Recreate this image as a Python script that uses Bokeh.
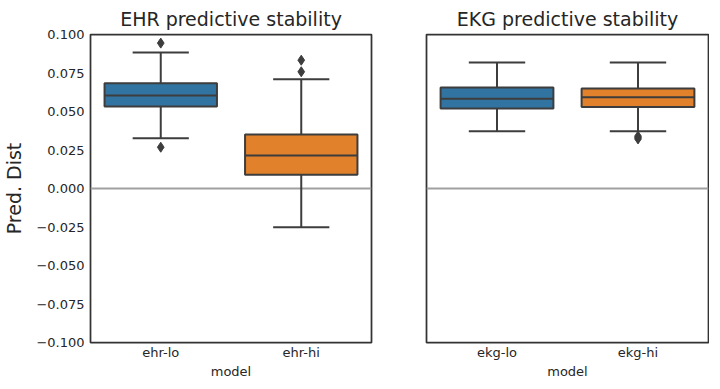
from bokeh.plotting import figure
from bokeh.models import FactorRange, Range1d, FixedTicker, Span, ColumnDataSource, CustomJSTickFormatter
from bokeh.transform import dodge
from bokeh.layouts import row
from bokeh.embed import file_html
from bokeh.resources import INLINE

# ---- data ----
ehr_models = ["ehr-lo", "ehr-hi"]
ehr_q1 = [0.0532, 0.0089]
ehr_med = [0.0604, 0.0214]
ehr_q3 = [0.0684, 0.0351]
ehr_lower = [0.0327, -0.0251]
ehr_upper = [0.0883, 0.0710]
ehr_out_model = ["ehr-lo", "ehr-lo", "ehr-hi", "ehr-hi"]
ehr_out_val = [0.0944, 0.0268, 0.0833, 0.0758]

ekg_models = ["ekg-lo", "ekg-hi"]
ekg_q1 = [0.0520, 0.0530]
ekg_med = [0.0582, 0.0593]
ekg_q3 = [0.0656, 0.0649]
ekg_lower = [0.0372, 0.0372]
ekg_upper = [0.0818, 0.0818]
ekg_out_model = ["ekg-hi", "ekg-hi", "ekg-hi"]
ekg_out_val = [0.0340, 0.0331, 0.0322]

y_ticks = [-0.1, -0.075, -0.05, -0.025, 0.0, 0.025, 0.05, 0.075, 0.1]

palette = ["#3274A1", "#E1812C"]
EDGE = "#3d3d3d"
TXT = "#262626"
FONT = "DejaVu Sans"


def panel(models, q1, med, q3, lo, hi, om, ov, title, show_y, fw, bl, br):
    p = figure(x_range=FactorRange(*models), y_range=Range1d(-0.1, 0.1),
               frame_width=fw, frame_height=308, output_backend="svg", toolbar_location=None,
               title=title, min_border_left=bl, min_border_right=br,
               min_border_top=25, min_border_bottom=36)
    src = ColumnDataSource(dict(model=models, q1=q1, med=med, q3=q3, lo=lo, hi=hi,
                                color=palette[:len(models)]))
    p.add_layout(Span(location=0, dimension="width", line_color="#a0a0a0",
                      line_width=2, level="underlay"))
    # whisker stems
    p.segment(x0="model", y0="q3", x1="model", y1="hi", source=src, line_color=EDGE, line_width=2)
    p.segment(x0="model", y0="q1", x1="model", y1="lo", source=src, line_color=EDGE, line_width=2)
    # caps
    for col in ("hi", "lo"):
        p.segment(x0=dodge("model", -0.2, range=p.x_range), y0=col,
                  x1=dodge("model", 0.2, range=p.x_range), y1=col,
                  source=src, line_color=EDGE, line_width=2)
    # boxes
    p.vbar(x="model", width=0.8, top="q3", bottom="q1", source=src,
           fill_color="color", line_color=EDGE, line_width=2)
    # medians
    p.segment(x0=dodge("model", -0.4, range=p.x_range), y0="med",
              x1=dodge("model", 0.4, range=p.x_range), y1="med",
              source=src, line_color=EDGE, line_width=2)
    # outliers
    osrc = ColumnDataSource(dict(model=om, val=ov))
    p.scatter(x="model", y="val", source=osrc, marker="diamond", size=10,
              fill_color=EDGE, line_color=EDGE)

    p.xgrid.visible = False
    p.ygrid.visible = False
    p.outline_line_color = "#333333"
    p.outline_line_width = 1.75
    p.title.text_font = FONT
    p.title.text_font_size = "19px"
    p.title.text_font_style = "normal"
    p.title.text_color = TXT
    p.title.align = "center"

    for ax in (p.xaxis[0], p.yaxis[0]):
        ax.axis_line_color = None
        ax.major_tick_line_color = None
        ax.minor_tick_line_color = None
        ax.major_tick_out = 0
        ax.major_tick_in = 0
        ax.minor_tick_out = 0
        ax.minor_tick_in = 0
        ax.major_label_text_font = FONT
        ax.major_label_text_font_size = "13px"
        ax.major_label_text_color = TXT
        ax.axis_label_text_font = FONT
        ax.axis_label_text_font_style = "normal"
        ax.axis_label_text_color = TXT
    p.xaxis.axis_label = "model"
    p.xaxis.axis_label_text_font_size = "13px"
    p.xaxis.major_label_standoff = 2
    p.xaxis.axis_label_standoff = 1
    p.yaxis.ticker = FixedTicker(ticks=y_ticks)
    p.yaxis.formatter = CustomJSTickFormatter(
        code="return (tick < -1e-9 ? '\u2212' : '') + Math.abs(tick).toFixed(3);")
    p.yaxis.major_label_standoff = 6
    if show_y:
        p.yaxis.axis_label = "Pred. Dist"
        p.yaxis.axis_label_text_font_size = "19px"
        p.yaxis.axis_label_standoff = 8
    else:
        p.yaxis.visible = False
    return p


p1 = panel(ehr_models, ehr_q1, ehr_med, ehr_q3, ehr_lower, ehr_upper, ehr_out_model, ehr_out_val,
           "EHR predictive stability", True, 281, 85, 10)
p2 = panel(ekg_models, ekg_q1, ekg_med, ekg_q3, ekg_lower, ekg_upper, ekg_out_model, ekg_out_val,
           "EKG predictive stability", False, 282, 45, 1)

layout = row(p1, p2)
open("out.html", "w").write(file_html(layout, INLINE))
